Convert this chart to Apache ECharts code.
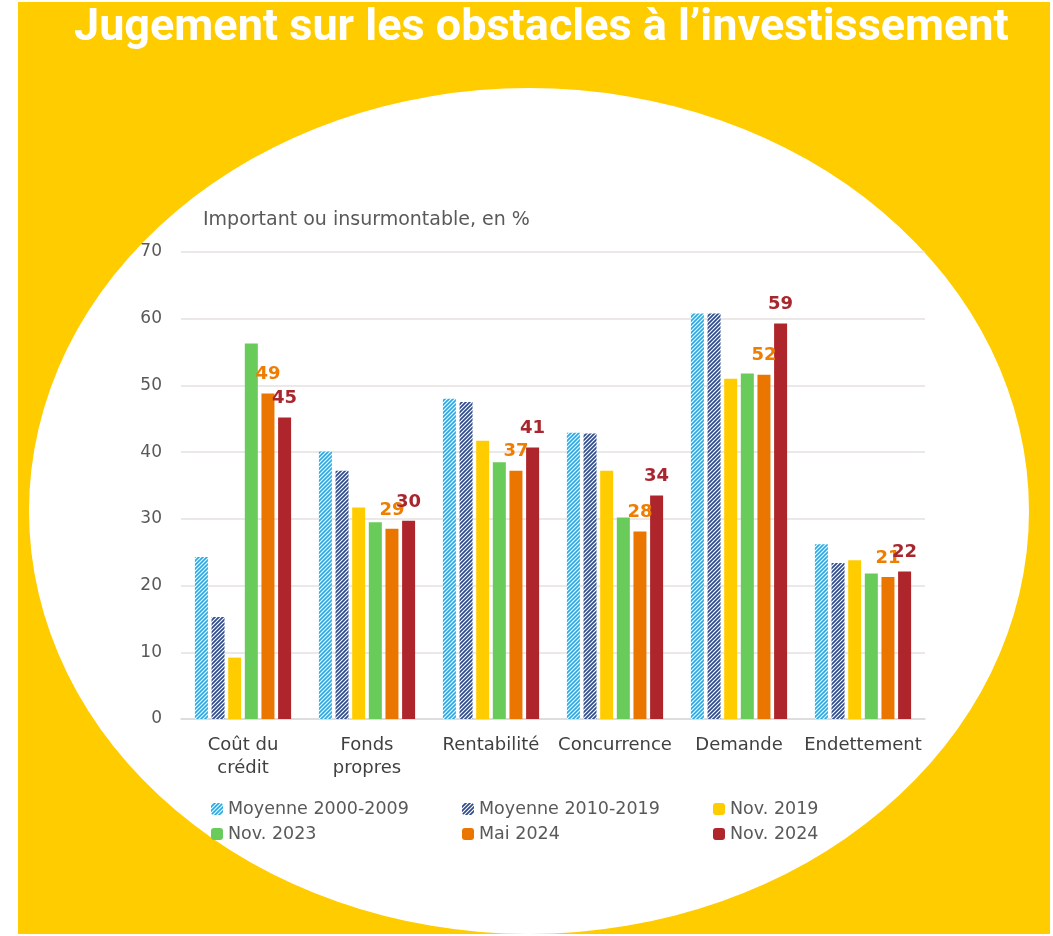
<!DOCTYPE html>
<html>
<head>
<meta charset="utf-8">
<script src="https://cdn.jsdelivr.net/npm/echarts@6/dist/echarts.min.js"></script>
<style>
  html, body { margin: 0; padding: 0; background: #fff; }
  #chart { width: 1053px; height: 936px; }
</style>
</head>
<body>
<div id="chart"></div>
<script>
var categories = ['Coût du\ncrédit', 'Fonds\npropres', 'Rentabilité', 'Concurrence', 'Demande', 'Endettement'];
var seriesNames = ['Moyenne 2000-2009', 'Moyenne 2010-2019', 'Nov. 2019', 'Nov. 2023', 'Mai 2024', 'Nov. 2024'];
var yTicks = [0, 10, 20, 30, 40, 50, 60, 70];

var moy2000 = [24.3, 40.1, 48.0, 42.9, 60.8, 26.2];
var moy2010 = [15.3, 37.2, 47.5, 42.8, 60.8, 23.4];
var nov2019 = [9.2, 31.7, 41.7, 37.2, 51.0, 23.8];
var nov2023 = [56.3, 29.5, 38.5, 30.2, 51.8, 21.8];
var mai2024 = [48.8, 28.5, 37.2, 28.1, 51.6, 21.3];
var nov2024 = [45.2, 29.7, 40.7, 33.5, 59.3, 22.1];

var police = 'DejaVu Sans';

// motif hachuré pour les moyennes
function hachure(couleur) {
    var c = document.createElement('canvas');
    c.width = 4; c.height = 4;
    var ctx = c.getContext('2d');
    ctx.fillStyle = '#ffffff';
    ctx.fillRect(0, 0, 4, 4);
    ctx.strokeStyle = couleur;
    ctx.lineWidth = 1.7;
    ctx.beginPath();
    ctx.moveTo(-1, 5); ctx.lineTo(5, -1);
    ctx.moveTo(-3, 3); ctx.lineTo(3, -3);
    ctx.moveTo(1, 7); ctx.lineTo(7, 1);
    ctx.stroke();
    return { image: c, repeat: 'repeat' };
}

var chart = echarts.init(document.getElementById('chart'));

function barre(nom, data, couleur, etiquette) {
    var s = {
        name: nom,
        type: 'bar',
        data: data,
        barWidth: 13,
        barGap: '28%',
        itemStyle: { color: couleur },
        label: { show: false }
    };
    if (etiquette) {
        s.label = {
            show: true,
            position: 'top',
            distance: 10,
            color: etiquette,
            fontSize: 18,
            fontWeight: 'bold',
            fontFamily: police,
            formatter: function (p) { return Math.round(p.value); }
        };
    }
    return s;
}

var legendText = { color: '#595959', fontSize: 17.5, fontFamily: police };

function legende(noms, gauche) {
    return { data: noms, orient: 'vertical', left: gauche, top: 795, itemWidth: 12, itemHeight: 12, itemGap: 7, textStyle: legendText };
}

var option = {
    backgroundColor: '#ffffff',
    animation: false,
    graphic: [
        { type: 'rect', z: -10, shape: { x: 18, y: 2, width: 1032, height: 932 }, style: { fill: '#FFCC00' } },
        { type: 'circle', z: -9, x: 529, y: 511, scaleX: 500 / 423, shape: { cx: 0, cy: 0, r: 423 }, style: { fill: '#ffffff' } },
        { type: 'text', left: 74, top: 6, style: { text: 'Jugement sur les obstacles à l\u2019investissement', fill: '#ffffff', font: 'bold 45px Roboto' } },
        { type: 'text', left: 203, top: 211, style: { text: 'Important ou insurmontable, en %', fill: '#595959', font: '19px "DejaVu Sans"' } }
    ],
    grid: { left: 181, right: 128, top: 252, bottom: 217 },
    legend: [
        legende([seriesNames[0], seriesNames[3]], 206),
        legende([seriesNames[1], seriesNames[4]], 457),
        legende([seriesNames[2], seriesNames[5]], 708)
    ],
    xAxis: {
        type: 'category',
        data: categories,
        axisTick: { show: false },
        axisLine: { lineStyle: { color: '#D9D9D9', width: 1.5 } },
        axisLabel: { color: '#404040', fontSize: 18, fontFamily: police, margin: 15, lineHeight: 23, interval: 0 }
    },
    yAxis: {
        type: 'value',
        min: yTicks[0],
        max: yTicks[yTicks.length - 1],
        interval: 10,
        axisLine: { show: false },
        axisTick: { show: false },
        axisLabel: { color: '#595959', fontSize: 17, fontFamily: police, margin: 19 },
        splitLine: { lineStyle: { color: '#E6E1E1', width: 1.5 } }
    },
    series: [
        barre(seriesNames[0], moy2000, hachure('#29A9E1')),
        barre(seriesNames[1], moy2010, hachure('#2E4A8E')),
        barre(seriesNames[2], nov2019, '#FFCC00'),
        barre(seriesNames[3], nov2023, '#68CB5A'),
        barre(seriesNames[4], mai2024, '#EA7600', '#EE7D00'),
        barre(seriesNames[5], nov2024, '#AE262C', '#A8262E')
    ]
};
chart.setOption(option);
</script>
</body>
</html>
